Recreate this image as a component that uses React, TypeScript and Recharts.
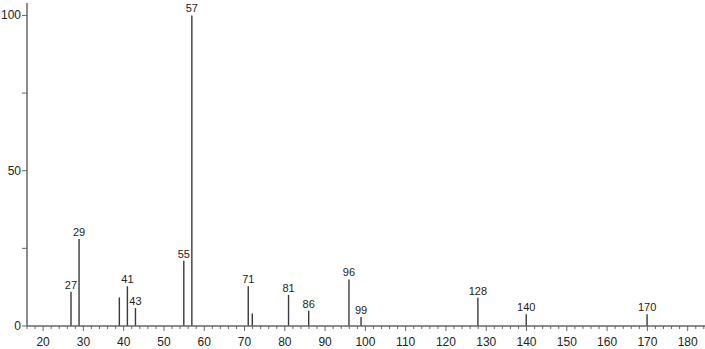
import { BarChart, Bar, XAxis, YAxis, LabelList } from 'recharts'

// m/z values and relative intensities
const masses = [27, 29, 39, 41, 43, 55, 57, 71, 72, 81, 86, 96, 99, 128, 140, 170]
const intensities = [11, 28, 9.2, 12.8, 5.8, 21, 100, 12.8, 4, 10, 4.9, 15, 2.9, 9.1, 3.8, 3.8]
const peakLabels = ['27', '29', '', '41', '43', '55', '57', '71', '', '81', '86', '96', '99', '128', '140', '170']

const xMajorTicks = [20, 30, 40, 50, 60, 70, 80, 90, 100, 110, 120, 130, 140, 150, 160, 170, 180]
const yTicks = [0, 25, 50, 75, 100]
const yLabeled = [0, 50, 100]

const xTicks = Array.from({ length: 85 }, (_, i) => 16 + i * 2)

const data = masses.map((mz, i) => ({ mz, intensity: intensities[i], label: peakLabels[i] }))

const FONT = '"Liberation Sans", Arial, sans-serif'
const AXIS = '#666'
const TEXT = '#222'

function XTick({ x, y, payload }: any) {
  const v = payload.value
  const major = xMajorTicks.includes(v)
  return (
    <g>
      <line x1={x} x2={x} y1={y} y2={y + (major ? 5 : 3)} stroke={AXIS} strokeWidth={1} />
      {major && (
        <text x={x} y={y + 20} textAnchor="middle" fontSize={12} fontFamily={FONT} fill={TEXT}>
          {v}
        </text>
      )}
    </g>
  )
}

function YTick({ x, y, payload }: any) {
  const v = payload.value
  return (
    <g>
      <line x1={x - 5} x2={x} y1={y} y2={y} stroke={AXIS} strokeWidth={1} />
      {yLabeled.includes(v) && (
        <text x={x - 6} y={y + 4} textAnchor="end" fontSize={12} fontFamily={FONT} fill={TEXT}>
          {v}
        </text>
      )}
    </g>
  )
}

export default function App() {
  return (
    <div style={{ position: 'absolute', left: 0, top: 0, background: '#fff' }}>
      <BarChart width={705} height={349} data={data} margin={{ top: 3, right: 0, left: 0, bottom: 0 }}>
        <XAxis
          dataKey="mz"
          type="number"
          domain={[16, 184.3]}
          allowDataOverflow
          ticks={xTicks}
          interval={0}
          tickSize={0}
          tickMargin={0}
          tick={<XTick />}
          height={23}
          axisLine={{ stroke: AXIS, strokeWidth: 1.5 }}
        />
        <YAxis
          type="number"
          domain={[0, 104]}
          allowDataOverflow
          ticks={yTicks}
          interval={0}
          tickSize={0}
          tickMargin={0}
          tick={<YTick />}
          width={27}
          axisLine={{ stroke: AXIS, strokeWidth: 1.5 }}
        />
        <Bar dataKey="intensity" fill="#3a3a3a" barSize={1.4} isAnimationActive={false}>
          <LabelList dataKey="label" position="top" offset={3} fontSize={11} fontFamily={FONT} fill={TEXT} />
        </Bar>
      </BarChart>
    </div>
  )
}
